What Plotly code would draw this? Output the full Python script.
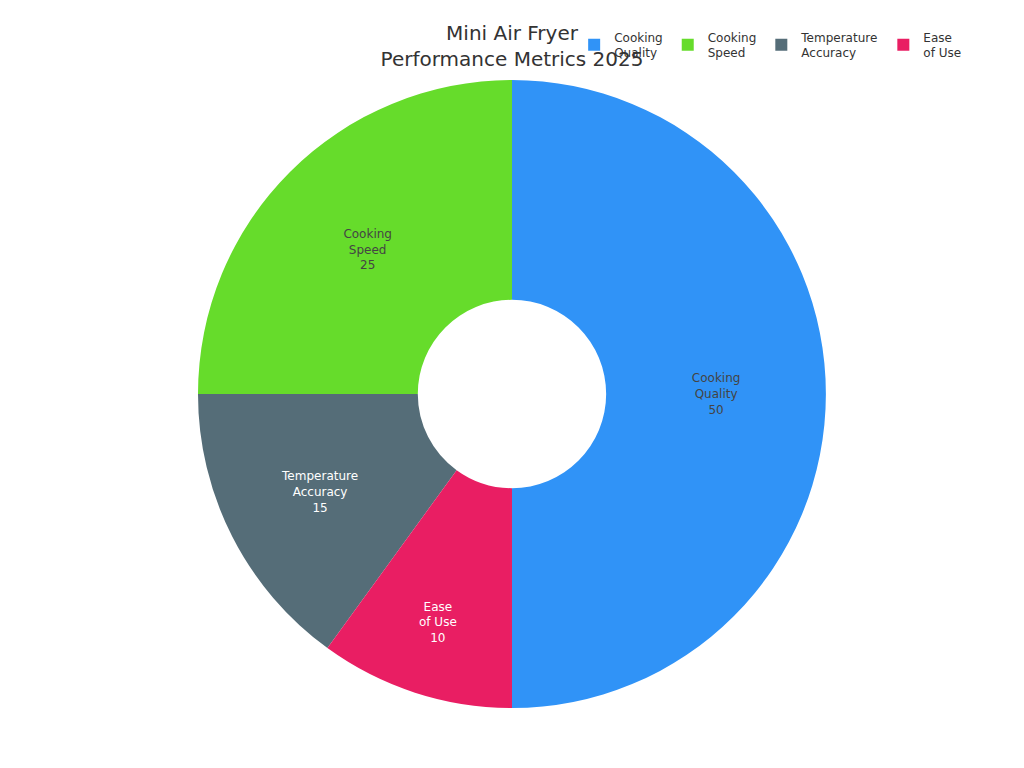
import plotly.graph_objects as go

labels = ["Cooking<br>Quality", "Cooking<br>Speed", "Temperature<br>Accuracy", "Ease<br>of Use"]
values = [50, 25, 15, 10]
colors = ["#3093F7", "#66DC2B", "#556D78", "#E91E63"]

fig = go.Figure(go.Pie(
    labels=labels,
    values=values,
    hole=0.3,
    sort=False,
    direction="counterclockwise",
    rotation=0,
    marker=dict(colors=colors),
    textinfo="label+value",
    textposition="inside",
    insidetextorientation="horizontal",
    textfont=dict(size=12),
))

fig.update_layout(
    width=1024, height=768,
    font=dict(family="DejaVu Sans", color="#333"),
    title=dict(text="Mini Air Fryer<br>Performance Metrics 2025", x=0.4922, xanchor="center",
               y=0.958, yanchor="top", font=dict(size=20, color="#333")),
    margin=dict(t=72, b=68, l=80, r=96),
    legend=dict(orientation="h", x=0.5733, xanchor="left", y=1.0915, yanchor="top",
                font=dict(size=12)),
    paper_bgcolor="white",
)

fig.write_html("out.html")
